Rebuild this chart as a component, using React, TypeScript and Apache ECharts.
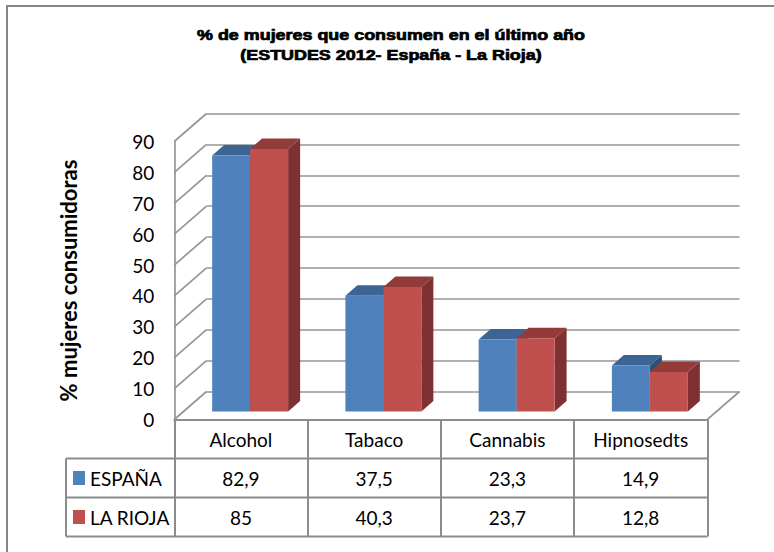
import React, { useEffect, useRef } from "react";
import * as echarts from "echarts";

// ---- data ----
const TITLE_LINES = ["% de mujeres que consumen en el último año", "(ESTUDES 2012- España - La Rioja)"];
const Y_AXIS_NAME = "% mujeres consumidoras";
const CATEGORIES = ["Alcohol", "Tabaco", "Cannabis", "Hipnosedts"];
const SERIES_NAMES = ["ESPAÑA", "LA RIOJA"];
const ESPANA = [82.9, 37.5, 23.3, 14.9];
const LA_RIOJA = [85, 40.3, 23.7, 12.8];
const Y_MIN = 0;
const Y_MAX = 90;
const Y_STEP = 10;
const Y_TICKS = [0, 10, 20, 30, 40, 50, 60, 70, 80, 90];

// ---- layout / style ----
const FONT = "Lato, 'Noto Sans', sans-serif";
const GRID_COLOR = "#969696";
const TABLE_COLOR = "#8c8c8c";
const BAR_PLANE = { left: 183.5, top: 133.5, width: 533, height: 278 };
const FRONT_SHIFT = [-9.2, 8];
const BACK_SHIFT = [23, -20];
const BAR_DEPTH = [12, -10.5];
const BAR_RATIO = 0.285;
const ROW_H = 39;
const LEGEND_LEFT = 66;
const PALETTE = [
  { front: "#4F81BD", top: "#3C6595", side: "#2F4F78" },
  { front: "#C0504D", top: "#923B39", side: "#7E3130" },
];

const fmt = (v: number) => String(v).replace(".", ",");

export default function App() {
  const ref = useRef<HTMLDivElement>(null);
  useEffect(() => {
    if (!ref.current) return;
    const chart = echarts.init(ref.current, undefined, { renderer: "svg" });

    const front = {
      left: BAR_PLANE.left + FRONT_SHIFT[0],
      top: BAR_PLANE.top + FRONT_SHIFT[1],
      width: BAR_PLANE.width,
      height: BAR_PLANE.height,
    };
    const back = {
      left: BAR_PLANE.left + BACK_SHIFT[0],
      top: BAR_PLANE.top + BACK_SHIFT[1],
      width: BAR_PLANE.width,
      height: BAR_PLANE.height,
    };
    const depth = [BACK_SHIFT[0] - FRONT_SHIFT[0], BACK_SHIFT[1] - FRONT_SHIFT[1]];
    const frontBottom = front.top + front.height;
    const band = front.width / CATEGORIES.length;
    const tableRight = front.left + front.width;

    const valueAxis = (gridIndex: number, extra: any) => ({
      type: "value",
      gridIndex,
      min: Y_MIN,
      max: Y_MAX,
      interval: Y_STEP,
      ...extra,
    });

    const barRender = (k: number) => (params: any, api: any) => {
      const cat = api.value(0);
      const val = api.value(1);
      const base = api.coord([cat, 0]);
      const top = api.coord([cat, val]);
      const bw = api.size([1, 0])[0] * BAR_RATIO;
      const x0 = k === 0 ? base[0] - bw : base[0];
      const x1 = x0 + bw;
      const yT = top[1];
      const yB = base[1];
      const [dx, dy] = BAR_DEPTH;
      const c = PALETTE[k];
      return {
        type: "group",
        children: [
          {
            type: "polygon",
            shape: { points: [[x1, yB], [x1 + dx, yB + dy], [x1 + dx, yT + dy], [x1, yT]] },
            style: { fill: c.side },
          },
          {
            type: "polygon",
            shape: { points: [[x0, yT], [x0 + dx, yT + dy], [x1 + dx, yT + dy], [x1, yT]] },
            style: { fill: c.top },
          },
          {
            type: "rect",
            shape: { x: x0, y: yT, width: bw, height: yB - yT },
            style: { fill: c.front },
          },
        ],
      };
    };

    // left wall diagonals (on back grid)
    const wallRender = (params: any, api: any) => {
      const v = api.value(0);
      const p = api.coord([0, v]);
      const half = api.size([1, 0])[0] / 2;
      const bx = p[0] - half;
      const by = p[1];
      return {
        type: "line",
        shape: { x1: bx - depth[0], y1: by - depth[1], x2: bx, y2: by },
        style: { stroke: GRID_COLOR, lineWidth: 1.7 },
      };
    };
    const floorRender = (params: any, api: any) => {
      const p = api.coord([CATEGORIES.length - 1, 0]);
      const half = api.size([1, 0])[0] / 2;
      const bx = p[0] + half;
      const by = p[1];
      return {
        type: "line",
        shape: { x1: bx - depth[0], y1: by - depth[1], x2: bx, y2: by },
        style: { stroke: GRID_COLOR, lineWidth: 1.7 },
      };
    };

    const textStyle = { fontFamily: FONT, fontSize: 19, fill: "#000" };
    const graphics: any[] = [
      {
        type: "rect",
        shape: { x: 7, y: 6, width: 820, height: 620 },
        style: { fill: "#fff", stroke: "#868686", lineWidth: 2 },
        z: -10,
        silent: true,
      },
    ];
    TITLE_LINES.forEach((t, i) => {
      graphics.push({
        type: "text",
        x: 391,
        y: 35 + i * 20,
        scaleX: 1.28,
        style: {
          text: t,
          fontFamily: "'Liberation Sans', Arial, sans-serif",
          fontWeight: "bold",
          fontSize: 14,
          fill: "#000",
          stroke: "#000",
          lineWidth: 0.7,
          align: "center",
          verticalAlign: "middle",
        },
      });
    });
    // table rows
    const rowLines = [1, 2, 3].map((r) => frontBottom + ROW_H * r);
    rowLines.forEach((y) => {
      graphics.push({
        type: "line",
        shape: { x1: LEGEND_LEFT, y1: y, x2: tableRight, y2: y },
        style: { stroke: TABLE_COLOR, lineWidth: 2 },
      });
    });
    graphics.push({
      type: "line",
      shape: { x1: LEGEND_LEFT, y1: rowLines[0], x2: LEGEND_LEFT, y2: rowLines[2] },
      style: { stroke: TABLE_COLOR, lineWidth: 2 },
    });
    [ESPANA, LA_RIOJA].forEach((vals, r) => {
      const cy = rowLines[r] + ROW_H / 2;
      graphics.push({
        type: "rect",
        shape: { x: LEGEND_LEFT + 7, y: cy - 7, width: 12, height: 14 },
        style: { fill: PALETTE[r].front },
      });
      graphics.push({
        type: "text",
        x: LEGEND_LEFT + 24,
        y: cy,
        style: { ...textStyle, text: SERIES_NAMES[r], align: "left", verticalAlign: "middle" },
      });
      vals.forEach((v, i) => {
        graphics.push({
          type: "text",
          x: front.left + band * (i + 0.5),
          y: cy,
          style: { ...textStyle, text: fmt(v), align: "center", verticalAlign: "middle" },
        });
      });
    });

    const option: any = {
      animation: false,
      backgroundColor: "#fff",
      grid: [
        { ...back, outerBoundsMode: "none" },
        { ...front, outerBoundsMode: "none" },
        { ...BAR_PLANE, outerBoundsMode: "none" },
      ],
      xAxis: [
        { type: "category", gridIndex: 0, data: CATEGORIES, show: false },
        {
          type: "category",
          gridIndex: 1,
          data: CATEGORIES,
          axisLine: { show: true, lineStyle: { color: TABLE_COLOR, width: 2 } },
          axisTick: {
            show: true,
            interval: 0,
            length: ROW_H * 3,
            lineStyle: { color: TABLE_COLOR, width: 2 },
          },
          axisLabel: {
            interval: 0,
            margin: ROW_H / 2,
            verticalAlign: "middle",
            fontFamily: FONT,
            fontSize: 19,
            color: "#000",
          },
        },
        { type: "category", gridIndex: 2, data: CATEGORIES, show: false },
      ],
      yAxis: [
        valueAxis(0, {
          axisLine: { show: false },
          axisTick: { show: false },
          axisLabel: { show: false },
          splitLine: { show: true, lineStyle: { color: GRID_COLOR, width: 1.7 } },
        }),
        valueAxis(1, {
          axisLine: { show: true, lineStyle: { color: GRID_COLOR, width: 1.7 } },
          axisTick: { show: false },
          splitLine: { show: false },
          axisLabel: { margin: 20, fontFamily: FONT, fontSize: 19, color: "#000" },
          name: Y_AXIS_NAME,
          nameLocation: "middle",
          nameRotate: 90,
          nameGap: 95,
          nameTextStyle: { fontFamily: FONT, fontSize: 22, fontWeight: "bold", color: "#000" },
        }),
        valueAxis(2, { show: false }),
      ],
      graphic: graphics,
      series: [
        {
          type: "custom",
          name: "walls",
          xAxisIndex: 0,
          yAxisIndex: 0,
          clip: false,
          silent: true,
          z: 1,
          renderItem: wallRender,
          data: Y_TICKS.map((v) => [v]),
        },
        {
          type: "custom",
          name: "floor",
          xAxisIndex: 0,
          yAxisIndex: 0,
          clip: false,
          silent: true,
          z: 1,
          renderItem: floorRender,
          data: [[0]],
        },
        {
          type: "custom",
          name: SERIES_NAMES[0],
          xAxisIndex: 2,
          yAxisIndex: 2,
          clip: false,
          z: 3,
          renderItem: barRender(0),
          data: ESPANA.map((v, i) => [i, v]),
        },
        {
          type: "custom",
          name: SERIES_NAMES[1],
          xAxisIndex: 2,
          yAxisIndex: 2,
          clip: false,
          z: 4,
          renderItem: barRender(1),
          data: LA_RIOJA.map((v, i) => [i, v]),
        },
      ],
    };
    chart.setOption(option);
    return () => chart.dispose();
  }, []);
  return (
    <div
      ref={ref}
      style={{ position: "absolute", left: 0, top: 0, width: 774, height: 552, background: "#fff" }}
    />
  );
}
